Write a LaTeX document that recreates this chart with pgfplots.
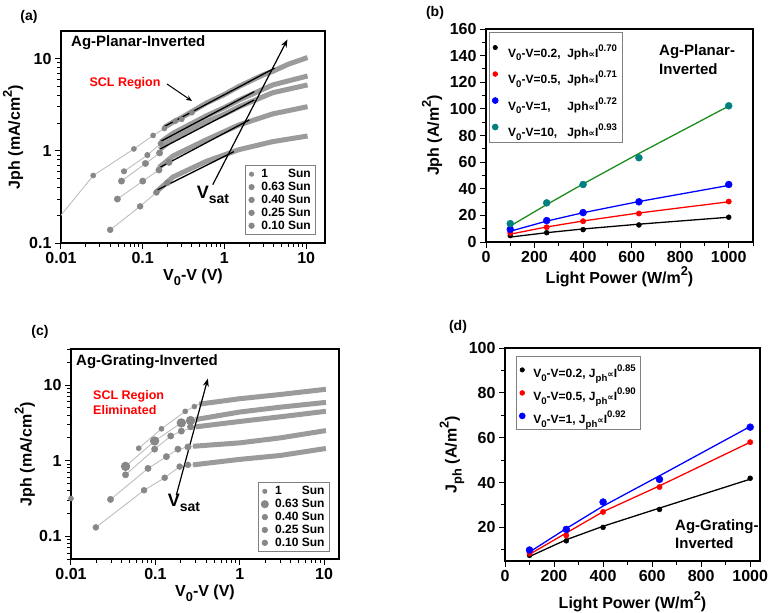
\documentclass[border=0pt]{standalone}
\usepackage{fontspec}
\setmainfont{Liberation Sans}
\newfontfamily\djv{DejaVu Sans}
\usepackage{pgfplots}
\pgfplotsset{compat=1.18}
\usetikzlibrary{arrows.meta,plotmarks}

\definecolor{mk}{RGB}{135,135,135}
\definecolor{ln}{RGB}{190,190,190}
\definecolor{band}{RGB}{155,155,155}
\definecolor{tealmk}{RGB}{0,128,128}
\definecolor{fitgreen}{RGB}{30,140,30}

\newcommand{\fs}[1]{\fontsize{#1}{#1}\selectfont\bfseries}
\newcommand{\prop}{{\djv\fontsize{9}{9}\selectfont ∝}}
\newcommand{\sub}[1]{\raisebox{-0.3em}{\fontsize{0.8em}{0.8em}\selectfont #1}}
\newcommand{\sups}[1]{\raisebox{0.5em}{\fontsize{0.8em}{0.8em}\selectfont #1}}
\newcommand{\strutb}{\rule[-11pt]{0pt}{32pt}\hspace*{8pt}}
\newcommand{\strutd}{\rule[-8pt]{0pt}{25.5pt}\hspace*{6pt}}

\pgfplotsset{
  fig/.style={
    scale only axis,
    axis line style={line width=1.3pt},
    tick align=outside, tick pos=left,
    major tick length=6pt, minor tick length=4pt,
    tick style={black, line width=1pt},
    tick label style={font=\fs{16}},
    label style={font=\fs{16}},
    legend cell align=left,
    legend style={draw=gray, line width=0.6pt, fill=white, font=\fs{12}},
  },
  sparse/.style={only marks, mark size=2.6pt, color=mk, forget plot},
  thin/.style={no marks, color=ln, line width=0.9pt, forget plot},
  bandl/.style={no marks, color=band, line width=5pt, forget plot},
  fitl/.style={no marks, black, line width=1.3pt, forget plot},
}

\begin{document}
\begin{tikzpicture}[x=1pt,y=1pt]
\path[use as bounding box] (0,0) rectangle (779,-613);

% ---------------- (a)
\begin{axis}[fig, xmode=log, ymode=log,
  at={(61pt,-243pt)}, anchor=south west, width=264pt, height=212pt,
  xmin=0.01, xmax=17, ymin=0.1, ymax=20,
  xtick={0.01,0.1,1,10}, xticklabels={0.01,0.1,1,10},
  ytick={0.1,1,10}, yticklabels={0.1,1,10},
  minor xtick={0.02,0.03,0.04,0.05,0.06,0.07,0.08,0.09,0.2,0.3,0.4,0.5,0.6,0.7,0.8,0.9,2,3,4,5,6,7,8,9},
  minor ytick={0.2,0.3,0.4,0.5,0.6,0.7,0.8,0.9,2,3,4,5,6,7,8,9},
  xlabel={V\sub{0}-V (V)}, ylabel={Jph (mA/cm\sups{2})},
  xlabel style={at={(axis description cs:0.5,-0.16)}, anchor=center},
  ylabel style={at={(axis description cs:-0.182,0.5)}, anchor=center},
  legend style={at={(0.966,0.038)}, anchor=south east, row sep=-1pt},
]
% 1 Sun
\addplot[thin] coordinates {(0.01,0.2) (0.0248,0.54) (0.078,1.05) (0.134,1.47) (0.184,1.75)};
\addplot[bandl] coordinates {(0.184,1.8) (0.234,2.05) (0.3,2.3) (0.6,3.3) (1,4.1) (1.5,5.0) (3,6.7) (3.9,7.3) (6,8.7) (10.4,10.3)};
\addplot[sparse, mark=square*] coordinates {(0.0248,0.54) (0.078,1.05) (0.134,1.47) (0.184,1.75) (0.25,2.1) (0.3,2.2) (0.4,2.6)};
% 0.63 Sun
\addplot[thin] coordinates {(0.059,0.60) (0.114,0.90) (0.166,1.2)};
\addplot[bandl] coordinates {(0.166,1.25) (0.234,1.55) (0.6,2.4) (1,2.95) (1.5,3.55) (3.9,5.2) (10.4,6.5)};
\addplot[sparse, mark=star, line width=0.8pt] coordinates {(0.059,0.60) (0.114,0.90) (0.166,1.2)};
% 0.40 Sun
\addplot[thin] coordinates {(0.055,0.47) (0.108,0.73) (0.161,0.95)};
\addplot[bandl] coordinates {(0.161,1.03) (0.234,1.35) (0.6,2.08) (1,2.5) (1.5,3.0) (3.9,4.28) (10.4,5.2)};
\addplot[sparse, mark=triangle*, mark size=3.2pt] coordinates {(0.055,0.47) (0.108,0.73) (0.161,0.95)};
% 0.25 Sun
\addplot[thin] coordinates {(0.049,0.30) (0.1,0.47) (0.158,0.62)};
\addplot[bandl] coordinates {(0.158,0.66) (0.234,0.88) (0.6,1.32) (1.5,1.91) (3.9,2.52) (10.4,3.02)};
\addplot[sparse, mark=triangle*, mark size=3.2pt, mark options={rotate=180}] coordinates {(0.049,0.30) (0.1,0.47) (0.158,0.62) (0.21,0.75)};
% 0.10 Sun
\addplot[thin] coordinates {(0.040,0.139) (0.093,0.25) (0.147,0.354)};
\addplot[bandl] coordinates {(0.147,0.36) (0.234,0.52) (0.6,0.77) (1.5,1.03) (3.9,1.26) (10.4,1.45)};
\addplot[sparse, mark=diamond*, mark size=3pt] coordinates {(0.040,0.139) (0.093,0.25) (0.147,0.354) (0.2,0.45)};
% SCL fits
\addplot[fitl] coordinates {(0.184,1.84) (4.1,7.9)};
\addplot[fitl] coordinates {(0.164,1.26) (2.32,4.39)};
\addplot[fitl] coordinates {(0.164,1.05) (2.32,3.57)};
\addplot[fitl] coordinates {(0.164,0.665) (2.02,2.17)};
\addplot[fitl] coordinates {(0.145,0.37) (1.3,0.98)};
\draw[-{Stealth[length=8pt,width=6pt]}, line width=1.2pt] (axis cs:0.72,0.43) -- (axis cs:5.9,16.2);
\addlegendimage{only marks, mark=square*, mark size=2.2pt, mk}
\addlegendentry{\hspace*{5pt}1\hphantom{.00} Sun}
\addlegendimage{only marks, mark=star, mark size=2.6pt, line width=0.8pt, mk}
\addlegendentry{\hspace*{5pt}0.63 Sun}
\addlegendimage{only marks, mark=triangle*, mark size=2.8pt, mk}
\addlegendentry{\hspace*{5pt}0.40 Sun}
\addlegendimage{only marks, mark=triangle*, mark options={rotate=180}, mark size=2.8pt, mk}
\addlegendentry{\hspace*{5pt}0.25 Sun}
\addlegendimage{only marks, mark=diamond*, mark size=2.8pt, mk}
\addlegendentry{\hspace*{5pt}0.10 Sun}
\end{axis}

% ---------------- (c)
\begin{axis}[fig, xmode=log, ymode=log,
  at={(71pt,-559pt)}, anchor=south west, width=268pt, height=210pt,
  xmin=0.01, xmax=15, ymin=0.05, ymax=30,
  xtick={0.01,0.1,1,10}, xticklabels={0.01,0.1,1,10},
  ytick={0.1,1,10}, yticklabels={0.1,1,10},
  minor xtick={0.02,0.03,0.04,0.05,0.06,0.07,0.08,0.09,0.2,0.3,0.4,0.5,0.6,0.7,0.8,0.9,2,3,4,5,6,7,8,9},
  minor ytick={0.05,0.06,0.07,0.08,0.09,0.2,0.3,0.4,0.5,0.6,0.7,0.8,0.9,2,3,4,5,6,7,8,9,20,30},
  xlabel={V\sub{0}-V (V)}, ylabel={Jph (mA/cm\sups{2})},
  xlabel style={at={(axis description cs:0.5,-0.162)}, anchor=center},
  ylabel style={at={(axis description cs:-0.172,0.5)}, anchor=center},
  legend style={at={(0.966,0.033)}, anchor=south east, row sep=-1pt},
]
% 1 Sun
\addplot[thin] coordinates {(0.0635,1.46) (0.118,2.64) (0.226,4.49) (0.33,5.6)};
\addplot[bandl] coordinates {(0.33,5.6) (0.5,5.95) (1,6.6) (3,7.5) (10.5,8.8)};
\addplot[sparse, mark=square*] coordinates {(0.0635,1.46) (0.118,2.64) (0.226,4.49) (0.29,5.2)};
% 0.63 Sun
\addplot[thin] coordinates {(0.0443,0.84) (0.098,1.82) (0.203,3.16) (0.3,3.5)};
\addplot[bandl] coordinates {(0.3,3.5) (1,4.4) (3,5.1) (10.5,5.9)};
\addplot[sparse, mark=star, mark size=4pt, line width=1.3pt] coordinates {(0.0443,0.84) (0.098,1.82) (0.203,3.16) (0.261,3.39)};
% 0.40 Sun
\addplot[thin] coordinates {(0.0443,0.65) (0.098,1.42) (0.152,2.12) (0.203,2.46) (0.3,2.8)};
\addplot[bandl] coordinates {(0.3,2.8) (1,3.3) (3,3.8) (10.5,4.5)};
\addplot[sparse, mark=triangle*, mark size=3.2pt] coordinates {(0.0443,0.65) (0.098,1.42) (0.152,2.12) (0.203,2.46) (0.261,2.8)};
% 0.25 Sun
\addplot[thin] coordinates {(0.0294,0.307) (0.0818,0.79) (0.135,1.13) (0.185,1.42) (0.28,1.55)};
\addplot[bandl] coordinates {(0.28,1.55) (1,1.72) (3,2.0) (10.5,2.5)};
\addplot[sparse, mark=triangle*, mark size=3.2pt, mark options={rotate=180}] coordinates {(0.0294,0.307) (0.0818,0.79) (0.135,1.13) (0.185,1.42) (0.243,1.52)};
% 0.10 Sun
\addplot[thin] coordinates {(0.0197,0.131) (0.0734,0.406) (0.129,0.594) (0.194,0.835) (0.28,0.88)};
\addplot[bandl] coordinates {(0.28,0.88) (1,1.04) (3,1.17) (10.5,1.45)};
\addplot[sparse, mark=diamond*, mark size=3pt] coordinates {(0.0197,0.131) (0.0734,0.406) (0.129,0.594) (0.194,0.835) (0.243,0.88)};
\addplot[sparse, mark=square*] coordinates {(0.01,0.316)};
\draw[-{Stealth[length=8pt,width=6pt]}, line width=1.2pt] (axis cs:0.177,0.35) -- (axis cs:0.419,12.2);
\addlegendimage{only marks, mark=square*, mark size=2.2pt, mk}
\addlegendentry{\hspace*{5pt}1\hphantom{.00} Sun}
\addlegendimage{only marks, mark=star, mark size=3.4pt, line width=1.2pt, mk}
\addlegendentry{\hspace*{5pt}0.63 Sun}
\addlegendimage{only marks, mark=triangle*, mark size=2.8pt, mk}
\addlegendentry{\hspace*{5pt}0.40 Sun}
\addlegendimage{only marks, mark=triangle*, mark options={rotate=180}, mark size=2.8pt, mk}
\addlegendentry{\hspace*{5pt}0.25 Sun}
\addlegendimage{only marks, mark=diamond*, mark size=2.8pt, mk}
\addlegendentry{\hspace*{5pt}0.10 Sun}
\end{axis}

% ---------------- (b)
\begin{axis}[fig,
  at={(486pt,-242pt)}, anchor=south west, width=267pt, height=213pt,
  xmin=0, xmax=1100, ymin=0, ymax=160,
  xtick={0,200,400,600,800,1000}, xticklabels={0,200,400,600,800,1000},
  ytick={0,20,40,60,80,100,120,140,160}, yticklabels={0,20,40,60,80,100,120,140,160},
  minor xtick={100,300,500,700,900,1100}, minor ytick={10,30,50,70,90,110,130,150},
  xlabel={Light Power (W/m\sups{2})}, ylabel={Jph (A/m\sups{2})},
  xlabel style={at={(axis description cs:0.5,-0.164)}, anchor=center},
  ylabel style={at={(axis description cs:-0.202,0.5)}, anchor=center},
  legend style={at={(0.011,0.986)}, anchor=north west},
]
\addplot[fitl] coordinates {(100,3.7) (250,7.0) (400,9.8) (630,13.4) (1000,18.6)};
\addplot[fitl, red] coordinates {(100,5.9) (250,11.3) (400,15.8) (630,21.8) (1000,30.2)};
\addplot[fitl, blue] coordinates {(100,8.1) (250,15.7) (400,22.0) (630,30.4) (1000,42.5)};
\addplot[fitl, fitgreen] coordinates {(100,12.0) (250,28.1) (400,43.6) (630,66.5) (1000,102.1)};
\addplot[only marks, mark=square*, mark size=2.5pt, black, forget plot] coordinates {(100,4.8) (250,7.0) (400,9.3) (630,12.8) (1000,18.6)};
\addplot[only marks, mark=*, mark size=2.7pt, red, forget plot] coordinates {(100,6.8) (250,11.1) (400,15.6) (630,21.4) (1000,30.4)};
\addplot[only marks, mark=triangle*, mark size=3.5pt, blue, forget plot] coordinates {(100,9.5) (250,16.1) (400,22.1) (630,30.2) (1000,43.2)};
\addplot[only marks, mark=triangle*, mark options={rotate=180}, mark size=3.5pt, tealmk, forget plot] coordinates {(100,13.8) (250,29.4) (400,43.2) (630,63.3) (1000,102.3)};
\addlegendimage{only marks, mark=square*, mark size=2.2pt, black}
\addlegendentry{\strutb V\sub{0}-V=0.2{,}\ \ Jph\prop I\sups{0.70}}
\addlegendimage{only marks, mark=*, mark size=2.4pt, red}
\addlegendentry{\strutb V\sub{0}-V=0.5{,}\ \ Jph\prop I\sups{0.71}}
\addlegendimage{only marks, mark=triangle*, mark size=3pt, blue}
\addlegendentry{\strutb V\sub{0}-V=1{,}\hphantom{.2}\ \ Jph\prop I\sups{0.72}}
\addlegendimage{only marks, mark=triangle*, mark options={rotate=180}, mark size=3pt, tealmk}
\addlegendentry{\strutb V\sub{0}-V=10{,}\hphantom{.}\ \ Jph\prop I\sups{0.93}}
\end{axis}

% ---------------- (d)
\begin{axis}[fig,
  at={(505pt,-561pt)}, anchor=south west, width=255pt, height=213pt,
  xmin=0, xmax=1040, ymin=5, ymax=100,
  xtick={0,200,400,600,800,1000}, xticklabels={0,200,400,600,800,1000},
  ytick={20,40,60,80,100}, yticklabels={20,40,60,80,100},
  minor xtick={100,300,500,700,900}, minor ytick={10,30,50,70,90},
  xlabel={Light Power (W/m\sups{2})}, ylabel={J\sub{ph} (A/m\sups{2})},
  xlabel style={at={(axis description cs:0.5,-0.192)}, anchor=center},
  ylabel style={at={(axis description cs:-0.208,0.5)}, anchor=center},
  legend style={at={(0.043,0.962)}, anchor=north west},
]
\addplot[fitl] coordinates {(100,7.0) (250,14.5) (400,20.5) (630,28.6) (1000,41.5)};
\addplot[fitl, red] coordinates {(100,8.0) (250,17.5) (400,27.0) (630,38.5) (1000,58.0)};
\addplot[fitl, blue] coordinates {(100,9.0) (250,19.5) (400,29.5) (630,43.0) (1000,65.0)};
\addplot[only marks, mark=square*, mark size=2.5pt, black, forget plot] coordinates {(100,7.5) (250,14.0) (400,20.0) (630,28.0) (1000,41.9)};
\addplot[only marks, mark=*, mark size=2.7pt, red, forget plot] coordinates {(100,8.4) (250,16.4) (400,26.9) (630,38.0) (1000,58.0)};
\addplot[only marks, mark=triangle*, mark size=3.5pt, blue, forget plot] coordinates {(100,9.9) (250,19.1) (400,31.3) (630,41.4) (1000,64.7)};
\addlegendimage{only marks, mark=square*, mark size=2.2pt, black}
\addlegendentry{\strutd V\sub{0}-V=0.2{,} J\sub{ph}\prop I\sups{0.85}}
\addlegendimage{only marks, mark=*, mark size=2.4pt, red}
\addlegendentry{\strutd V\sub{0}-V=0.5{,} J\sub{ph}\prop I\sups{0.90}}
\addlegendimage{only marks, mark=triangle*, mark size=3pt, blue}
\addlegendentry{\strutd V\sub{0}-V=1{,} J\sub{ph}\prop I\sups{0.92}}
\end{axis}

% ---------------- annotations
\node[font=\fs{14}] at (29,-17) {(a)};
\node[font=\fs{14}] at (435,-13) {(b)};
\node[font=\fs{14}] at (40,-332) {(c)};
\node[font=\fs{14}] at (458,-327) {(d)};

\node[font=\fs{15}, anchor=west, inner sep=0] at (71,-43) {Ag-Planar-Inverted};
\node[font=\fs{12.5}, text=red, inner sep=0] at (125,-83) {SCL Region};
\draw[-{Stealth[length=6pt,width=5pt]}, line width=1pt] (167,-84) -- (192,-101);
\node[inner sep=0] at (213,-195) {\fs{18}V\raisebox{-0.3em}{\fs{14}sat}};

\node[font=\fs{15}, anchor=west, inner sep=0] at (659,-52) {Ag-Planar-};
\node[font=\fs{15}, anchor=west, inner sep=0] at (659,-69) {Inverted};

\node[font=\fs{15}, anchor=west, inner sep=0] at (76,-362) {Ag-Grating-Inverted};
\node[font=\fs{12.5}, text=red, anchor=west, inner sep=0] at (93,-396) {SCL Region};
\node[font=\fs{12.5}, text=red, anchor=west, inner sep=0] at (93,-410) {Eliminated};
\node[inner sep=0] at (184,-503) {\fs{18}V\raisebox{-0.3em}{\fs{14}sat}};

\node[font=\fs{15}, anchor=west, inner sep=0] at (675,-527) {Ag-Grating-};
\node[font=\fs{15}, anchor=west, inner sep=0] at (675,-543) {Inverted};
\end{tikzpicture}
\end{document}
